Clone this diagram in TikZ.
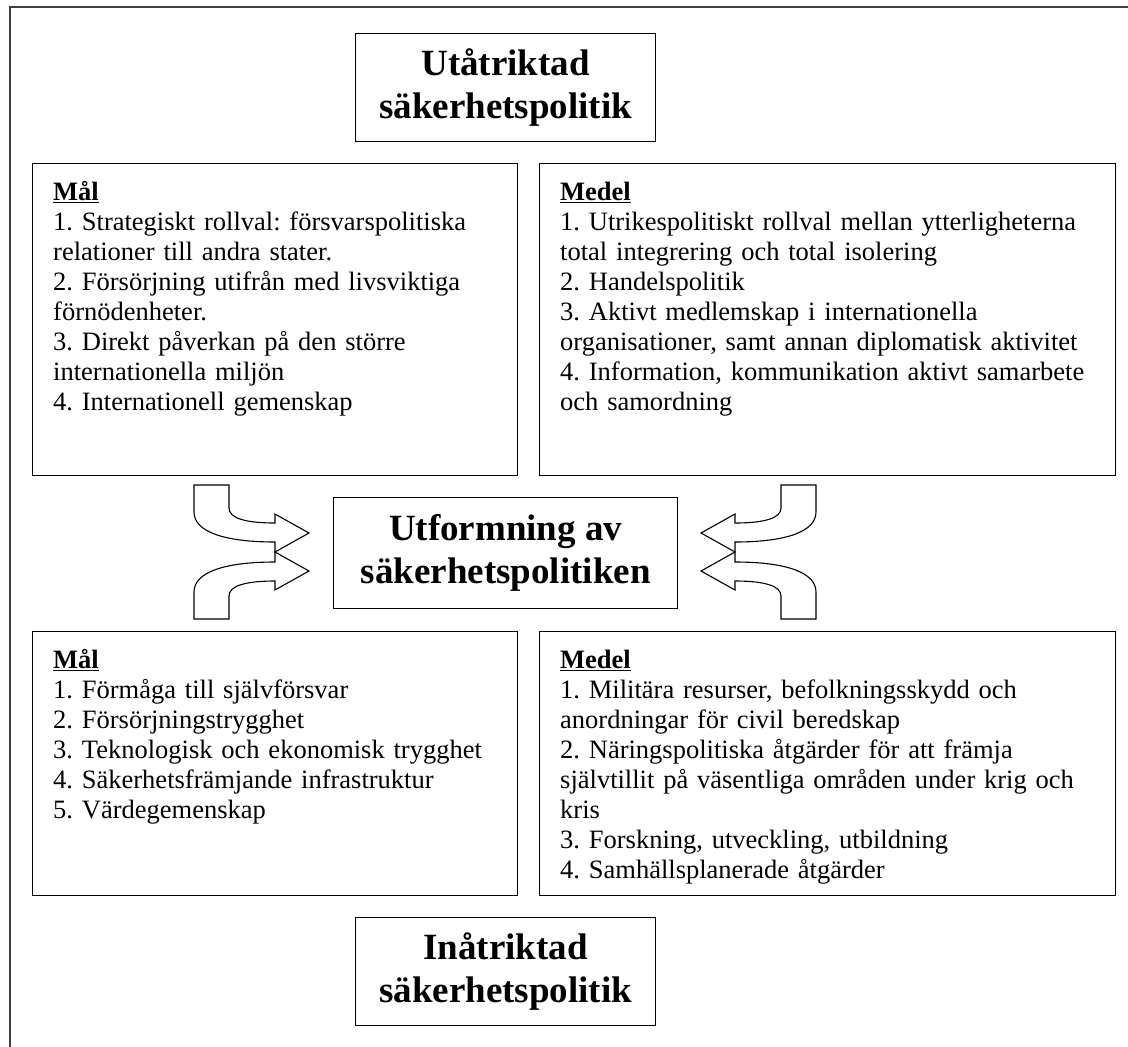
\documentclass[tikz,border=0pt]{standalone}
\usepackage{fontspec}
\setmainfont{Liberation Serif}
\frenchspacing
\begin{document}
\begin{tikzpicture}[x=1pt,y=-1pt,
  box/.style={draw=black, line width=1.3pt, fill=white, inner sep=0pt, anchor=north west},
  titlebox/.style={box, font=\fontsize{37}{43}\selectfont\bfseries, align=center},
  body/.style={font=\fontsize{26.5}{30}\selectfont\frenchspacing, align=left, inner sep=0pt, anchor=north west},
  bigarrow/.style={draw=black, line width=1.1pt, fill=white, line join=miter}]
\useasboundingbox (0,0) rectangle (1128,1047);
\begin{scope}
  \clip (0,0) rectangle (1128,1047);
  \draw[line width=2.2pt, draw=black!75] (10,7) rectangle (1140,1060);
\end{scope}
% title boxes
\node[titlebox, minimum width=300pt, minimum height=108pt] (ut) at (355,33) {Utåtriktad\\säkerhetspolitik};
\node[titlebox, minimum width=344pt, minimum height=111pt] (mid) at (333,497) {Utformning av\\säkerhetspolitiken};
\node[titlebox, minimum width=300pt, minimum height=108pt] (in) at (355,917) {Inåtriktad\\säkerhetspolitik};
% content boxes
\node[box, minimum width=485pt, minimum height=312pt] (tl) at (32,163) {};
\node[box, minimum width=576pt, minimum height=312pt] (tr) at (539,163) {};
\node[box, minimum width=485pt, minimum height=264pt] (bl) at (32,631) {};
\node[box, minimum width=576pt, minimum height=264pt] (br) at (539,631) {};
% texts
\node[body, text width=470pt] (tlt) at (53,179) {\strut\underline{\textbf{Mål}}\\
1. Strategiskt rollval: försvarspolitiska\\
relationer till andra stater.\\
2. Försörjning utifrån med livsviktiga\\
förnödenheter.\\
3. Direkt påverkan på den större\\
internationella miljön\\
4. Internationell gemenskap};
\node[body, text width=560pt] (trt) at (560,179) {\strut\underline{\textbf{Medel}}\\
1. Utrikespolitiskt rollval mellan ytterligheterna\\
total integrering och total isolering\\
2. Handelspolitik\\
3. Aktivt medlemskap i internationella\\
organisationer, samt annan diplomatisk aktivitet\\
4. Information, kommunikation aktivt samarbete\\
och samordning};
\node[body, text width=470pt] (blt) at (53,647) {\strut\underline{\textbf{Mål}}\\
1. Förmåga till självförsvar\\
2. Försörjningstrygghet\\
3. Teknologisk och ekonomisk trygghet\\
4. Säkerhetsfrämjande infrastruktur\\
5. Värdegemenskap};
\node[body, text width=560pt] (brt) at (560,647) {\strut\underline{\textbf{Medel}}\\
1. Militära resurser, befolkningsskydd och\\
anordningar för civil beredskap\\
2. Näringspolitiska åtgärder för att främja\\
självtillit på väsentliga områden under krig och\\
kris\\
3. Forskning, utveckling, utbildning\\
4. Samhällsplanerade åtgärder};
% curved arrows, left side
\draw[bigarrow] (194,485) -- (229,485) -- (229,508) .. controls (229,518) and (245,523) .. (275,523)
  -- (275,514) -- (309,533) -- (275,552) -- (275,542) .. controls (225,542) and (194,532) .. (194,512) -- cycle;
\draw[bigarrow] (194,619) -- (229,619) -- (229,596) .. controls (229,586) and (245,581) .. (275,581)
  -- (275,590) -- (309,571) -- (275,552) -- (275,562) .. controls (225,562) and (194,572) .. (194,592) -- cycle;
% curved arrows, right side
\draw[bigarrow] (816,485) -- (781,485) -- (781,508) .. controls (781,518) and (765,523) .. (735,523)
  -- (735,514) -- (701,533) -- (735,552) -- (735,542) .. controls (785,542) and (816,532) .. (816,512) -- cycle;
\draw[bigarrow] (816,619) -- (781,619) -- (781,596) .. controls (781,586) and (765,581) .. (735,581)
  -- (735,590) -- (701,571) -- (735,552) -- (735,562) .. controls (785,562) and (816,572) .. (816,592) -- cycle;
\end{tikzpicture}
\end{document}
